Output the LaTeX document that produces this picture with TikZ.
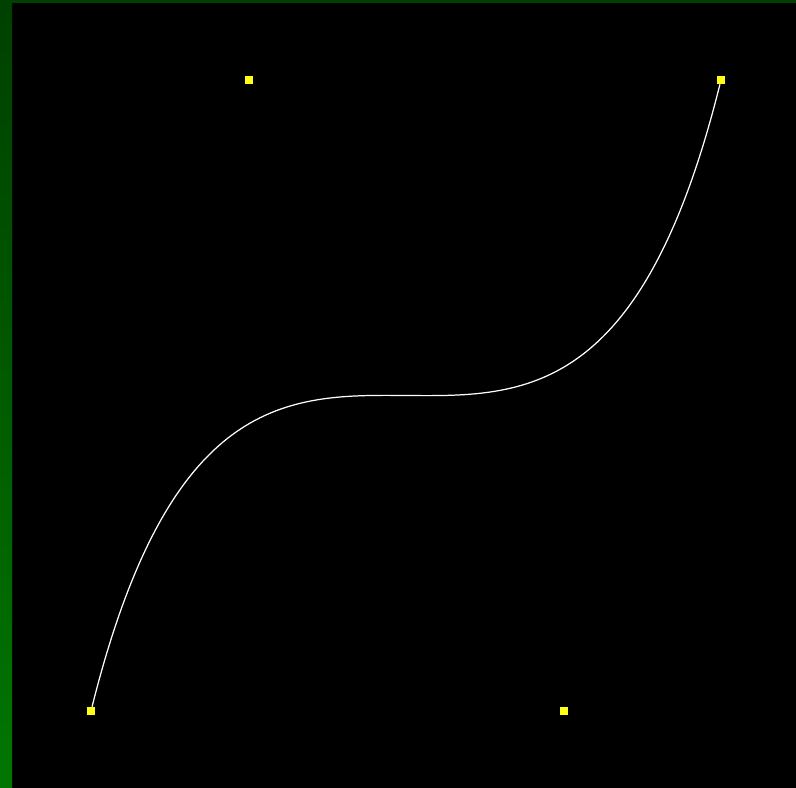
\documentclass[tikz,border=0pt]{standalone}
\usepackage{tikz}
\usetikzlibrary{positioning,calc}
\definecolor{FrameDark}{RGB}{0,64,0}
\definecolor{FrameLight}{RGB}{0,118,0}
\definecolor{HandleGold}{RGB}{255,255,20}

\begin{document}
\begin{tikzpicture}[x=0.02cm,y=-0.02cm]
				\fill[black] (0,0) rectangle (796,788);
				\shade[top color=FrameDark,bottom color=FrameLight] (0,0) rectangle (12,788);
				\fill[FrameDark] (0,0) rectangle (796,3);
				
				\foreach \i/\x/\y in {0/91/711,1/249/80,2/564/711,3/721/80}
				\node[rectangle,fill=HandleGold,inner sep=0pt,minimum size=0.16cm] (p\i) at (\x,\y) {};
				
				\draw[white,line width=0.7pt] (p0) .. controls (p1.center) and (p2.center) .. (p3);
			\end{tikzpicture}
\end{document}
